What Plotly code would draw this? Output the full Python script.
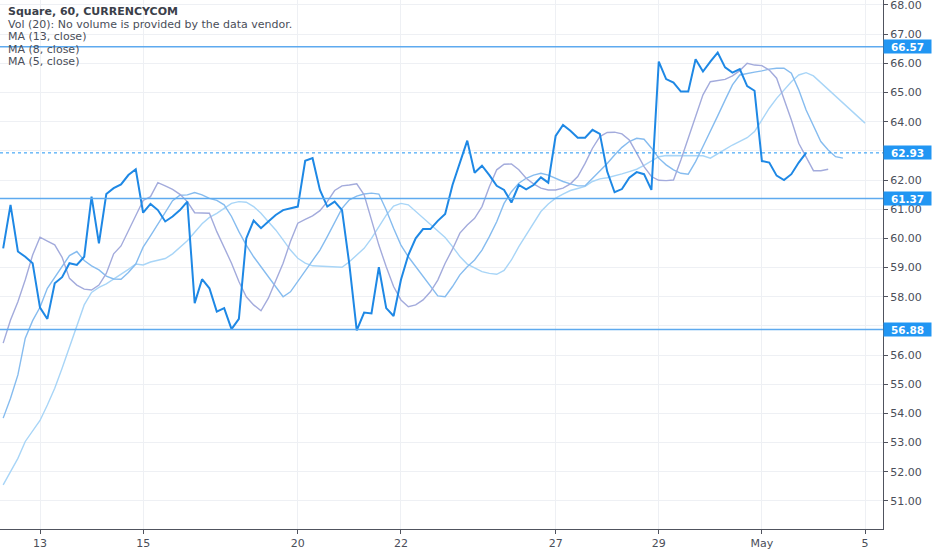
import plotly.graph_objects as go

# hourly closes, one value per bar
close = [59.66, 61.15, 59.55, 59.37, 59.15, 57.63, 57.24, 58.46, 58.67, 59.15,
         59.09, 59.37, 61.43, 59.83, 61.52, 61.72, 61.85, 62.17, 62.37, 60.88,
         61.18, 60.97, 60.58, 60.75, 60.97, 61.26, 57.78, 58.60, 58.29, 57.49,
         57.61, 56.89, 57.24, 60.00, 60.61, 60.35, 60.58, 60.80, 60.97, 61.03,
         61.09, 62.66, 62.75, 61.66, 61.09, 61.26, 60.97, 59.10, 56.85, 57.46,
         57.43, 59.01, 57.61, 57.34, 58.58, 59.43, 60.00, 60.32, 60.32, 60.60,
         60.84, 61.83, 62.57, 63.35, 62.25, 62.49, 62.17, 61.80, 61.66, 61.23,
         61.83, 61.68, 61.83, 62.09, 61.91, 63.51, 63.89, 63.69, 63.45, 63.45,
         63.72, 63.58, 62.29, 61.58, 61.69, 62.08, 62.27, 62.20, 61.66, 66.06,
         65.46, 65.34, 65.03, 65.03, 66.14, 65.72, 66.06, 66.37, 65.86, 65.68,
         65.80, 65.22, 65.06, 62.65, 62.60, 62.15, 62.00, 62.20, 62.60, 62.93]

# moving averages as drawn (they run past the last close)
ma5 = [56.41, 57.20, 57.83, 58.58, 59.43, 60.04, 59.91, 59.78, 59.35, 58.63,
       58.40, 58.26, 58.23, 58.40, 58.80, 59.47, 59.74, 60.27, 60.77, 61.30,
       61.43, 61.91, 61.80, 61.68, 61.51, 61.26, 60.88, 60.88, 60.86, 60.23,
       59.70, 59.15, 58.52, 58.00, 57.72, 57.52, 57.95, 58.57, 59.15, 59.89,
       60.52, 60.65, 60.77, 60.95, 61.26, 61.64, 61.80, 61.83, 61.87, 61.49,
       60.63, 59.77, 59.03, 58.35, 57.89, 57.66, 57.72, 57.89, 58.17, 58.57,
       59.15, 59.63, 60.18, 60.46, 60.69, 61.09, 61.77, 62.35, 62.54, 62.55,
       62.35, 62.06, 61.87, 61.72, 61.66, 61.66, 61.72, 61.87, 62.12, 62.57,
       63.09, 63.49, 63.63, 63.64, 63.58, 63.37, 62.92, 62.46, 62.12, 61.99,
       61.98, 62.00, 62.69, 63.43, 64.17, 64.92, 65.37, 65.41, 65.45, 65.57,
       65.75, 66.00, 65.94, 65.92, 65.77, 65.49, 64.80, 64.06, 63.26, 62.80,
       62.32, 62.32, 62.37]

ma8 = [53.84, 54.52, 55.32, 56.58, 57.18, 57.64, 58.29, 58.67, 59.06, 59.41,
       59.55, 59.24, 59.06, 58.92, 58.71, 58.61, 58.60, 58.83, 59.12, 59.70,
       60.09, 60.49, 60.89, 61.29, 61.48, 61.49, 61.57, 61.49, 61.37, 61.30,
       61.15, 60.75, 60.23, 59.77, 59.37, 59.03, 58.69, 58.35, 58.00, 58.17,
       58.52, 58.86, 59.21, 59.60, 60.06, 60.57, 61.03, 61.32, 61.45, 61.52,
       61.55, 61.52, 60.97, 60.35, 59.77, 59.37, 59.03, 58.69, 58.35, 58.03,
       58.00, 58.35, 58.75, 59.03, 59.26, 59.60, 60.06, 60.57, 61.20, 61.60,
       61.89, 62.06, 62.17, 62.23, 62.17, 62.06, 61.95, 61.87, 61.80, 61.80,
       62.06, 62.29, 62.57, 62.86, 63.12, 63.32, 63.43, 63.40, 63.10, 62.75,
       62.52, 62.35, 62.23, 62.20, 62.63, 63.15, 63.66, 64.20, 64.74, 65.26,
       65.60, 65.66, 65.70, 65.74, 65.80, 65.83, 65.83, 65.66, 65.09, 64.40,
       63.83, 63.32, 63.03, 62.80, 62.75]

ma13 = [51.55, 52.01, 52.46, 53.04, 53.41, 53.76, 54.29, 54.86, 55.55, 56.27,
        56.95, 57.72, 58.15, 58.32, 58.44, 58.60, 58.78, 58.94, 59.12, 59.09,
        59.19, 59.25, 59.31, 59.47, 59.70, 59.92, 60.21, 60.50, 60.72, 60.86,
        61.03, 61.20, 61.26, 61.24, 61.09, 60.86, 60.57, 60.29, 59.95, 59.60,
        59.32, 59.15, 59.06, 59.05, 59.03, 59.02, 59.01, 59.20, 59.43, 59.66,
        60.00, 60.40, 60.80, 61.11, 61.20, 61.15, 60.92, 60.69, 60.46, 60.23,
        60.03, 59.72, 59.38, 59.12, 58.98, 58.86, 58.80, 58.77, 58.90, 59.26,
        59.72, 60.12, 60.52, 60.92, 61.18, 61.38, 61.52, 61.64, 61.71, 61.78,
        61.95, 62.04, 62.08, 62.14, 62.21, 62.29, 62.37, 62.50, 62.65, 62.80,
        62.84, 62.84, 62.84, 62.84, 62.84, 62.83, 62.75, 62.89, 63.05, 63.20,
        63.32, 63.45, 63.66, 64.06, 64.46, 64.80, 65.09, 65.37, 65.60, 65.68,
        65.57, 65.34, 65.09, 64.86, 64.63, 64.40, 64.17, 63.95]

# horizontal levels drawn on the chart + last price
levels = [66.57, 61.37, 56.88]
last_price = 62.93

# day ticks on the bar axis
day_bars = [5, 19, 40, 54, 75, 89, 103, 117]
day_labels = ['13', '15', '20', '22', '27', '29', 'May', '5']

# price scale; 57 and 63 sit under the level labels
price_ticks = list(range(51, 69))
hidden_ticks = [57, 63]

legend_lines = ['Vol (20): No volume is provided by the data vendor.',
                'MA (13, close)', 'MA (8, close)', 'MA (5, close)']
title = 'Square, 60, CURRENCYCOM'

FONT = 'DejaVu Sans'
AXIS_COL = '#50535e'
GRID_COL = '#eef0f4'
BLUE = '#2196f3'

fig = go.Figure()

for vals, col in [(ma13, '#a8d5f7'), (ma8, '#86bcef'), (ma5, '#a3abdc')]:
    fig.add_trace(go.Scatter(x=list(range(len(vals))), y=vals, mode='lines',
                             line=dict(color=col, width=1.4),
                             hoverinfo='skip'))

fig.add_trace(go.Scatter(x=list(range(len(close))), y=close, mode='lines',
                         line=dict(color='#1e88e5', width=2),
                         hoverinfo='skip'))

for lvl in levels:
    fig.add_hline(y=lvl, line=dict(color='#5eaaef', width=1.5))
fig.add_hline(y=last_price, line=dict(color=BLUE, width=1, dash='dot'))

for lvl in levels + [last_price]:
    fig.add_annotation(xref='paper', x=1, xanchor='left', yref='y', y=lvl,
                       text='<b>%.2f</b>' % lvl, showarrow=False,
                       font=dict(family=FONT, size=10.5, color='white'),
                       bgcolor=BLUE, width=45, height=11, borderpad=1,
                       align='center')

fig.add_annotation(xref='paper', x=6 / 883, xanchor='left',
                   yref='paper', y=1 - 11.5 / 529, yanchor='middle',
                   text='<b>' + title + '</b>', showarrow=False,
                   font=dict(family=FONT, size=11, color='#3b3f4a'))
for i, txt in enumerate(legend_lines):
    fig.add_annotation(xref='paper', x=6 / 883, xanchor='left',
                       yref='paper', y=1 - (24.2 + 12.4 * i) / 529,
                       yanchor='middle', text=txt, showarrow=False,
                       font=dict(family=FONT, size=11, color='#4a4e59'))

fig.update_layout(
    width=932, height=550,
    margin=dict(l=0, r=49, t=0, b=21, autoexpand=False),
    paper_bgcolor='white', plot_bgcolor='white',
    showlegend=False,
    font=dict(family=FONT, size=11, color='#4a4e59'),
    xaxis=dict(range=[-0.43, 119.44], tickvals=day_bars, ticktext=day_labels,
               showgrid=True, gridcolor=GRID_COL, gridwidth=1,
               zeroline=False, showline=True, linecolor=AXIS_COL,
               linewidth=1, ticks='outside', ticklen=4, tickcolor=AXIS_COL,
               fixedrange=True, automargin=False),
    yaxis=dict(range=[50.04, 68.17], side='right', tickvals=price_ticks,
               ticktext=['' if t in hidden_ticks else '%.2f' % t
                         for t in price_ticks],
               showgrid=True, gridcolor=GRID_COL,
               gridwidth=1, zeroline=False, showline=True,
               linecolor=AXIS_COL, linewidth=1, ticks='outside', ticklen=4,
               tickcolor=AXIS_COL, fixedrange=True, automargin=False,
               ticklabeloverflow='allow'),
)

fig.write_html('out.html', config={'displayModeBar': False},
               post_script="document.body.style.margin='0';"
                           "document.body.style.overflow='hidden';")
